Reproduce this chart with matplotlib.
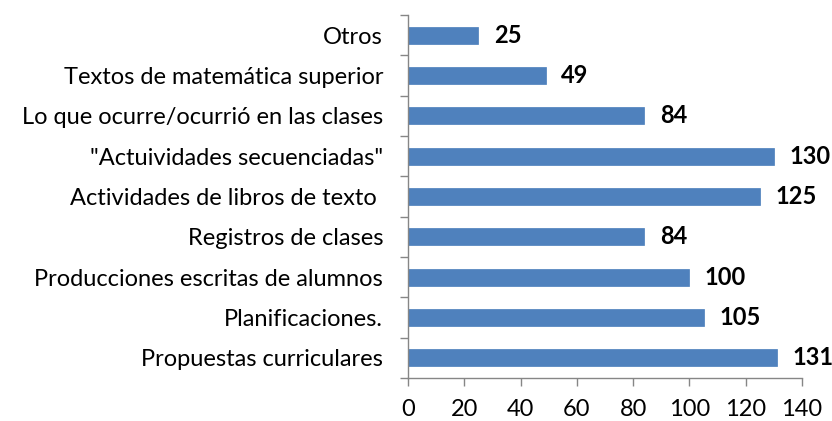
import matplotlib.pyplot as plt

plt.rcParams['font.family'] = ['Lato', 'DejaVu Sans']

# Categories from bottom to top
categories = [
    "Propuestas curriculares",
    "Planificaciones.",
    "Producciones escritas de alumnos",
    "Registros de clases",
    "Actividades de libros de texto ",
    "\"Actuividades secuenciadas\"",
    "Lo que ocurre/ocurrió en las clases",
    "Textos de matemática superior",
    "Otros",
]
values = [131, 105, 100, 84, 125, 130, 84, 49, 25]
x_ticks = [0, 20, 40, 60, 80, 100, 120, 140]

fig = plt.figure(figsize=(8.32, 4.21), dpi=100)
ax = fig.add_axes([0.4904, 0.102, 0.4736, 0.862])

pos = range(len(categories))
ax.barh(pos, values, height=0.42, color='#4F81BD', edgecolor='#4A7EBB', linewidth=0.5)

for y, v in zip(pos, values):
    ax.text(v + 5.5, y, str(v), va='center', ha='left', fontsize=17, fontweight='bold')

ax.set_xlim(0, 140)
ax.set_ylim(-0.5, len(categories) - 0.5)
ax.set_xticks(x_ticks)
ax.set_xticklabels([str(t) for t in x_ticks], fontsize=17)

# category labels centered, ticks at boundaries
ax.set_yticks(list(pos))
ax.set_yticklabels(categories, fontsize=17)
ax.tick_params(axis='y', which='major', length=0, pad=18)
ax.set_yticks([i - 0.5 for i in range(len(categories) + 1)], minor=True)
ax.tick_params(axis='y', which='minor', length=6, color='#868686', width=1)
ax.tick_params(axis='x', length=6, color='#868686', width=1, pad=9)

for s in ['top', 'right']:
    ax.spines[s].set_visible(False)
for s in ['left', 'bottom']:
    ax.spines[s].set_color('#868686')
    ax.spines[s].set_linewidth(1)

fig.savefig('out.png', dpi=100)
